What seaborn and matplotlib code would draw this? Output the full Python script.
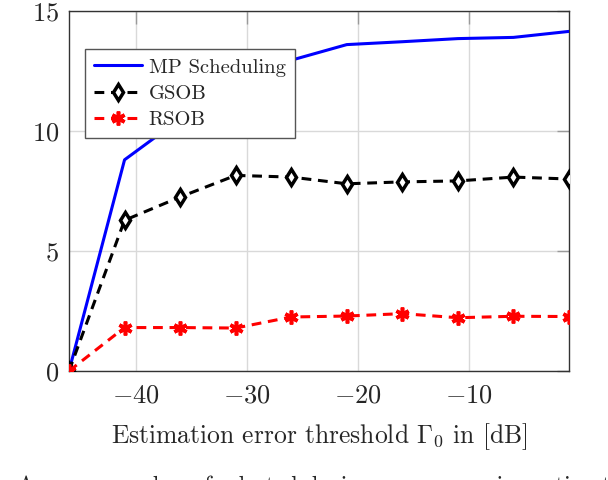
import matplotlib
matplotlib.use("Agg")
import matplotlib.pyplot as plt
import seaborn as sns
import numpy as np

thresholds = [-46, -41, -36, -31, -26, -21, -16, -11, -6, -1]
mp_sched = [0.0, 8.8, 10.5, 11.8, 12.95, 13.6, 13.72, 13.85, 13.9, 14.15]
gsob = [0.0, 6.28, 7.25, 8.15, 8.08, 7.8, 7.88, 7.92, 8.08, 8.0]
rsob = [0.0, 1.81, 1.81, 1.79, 2.25, 2.29, 2.39, 2.22, 2.28, 2.27]
xticks = [-40, -30, -20, -10]
yticks = [0, 5, 10, 15]

sns.set_theme(style="whitegrid")
plt.rcParams["font.family"] = ["cmr10", "DejaVu Serif"]
plt.rcParams["mathtext.fontset"] = "cm"
plt.rcParams["axes.formatter.use_mathtext"] = True
plt.rcParams["axes.unicode_minus"] = True

fig = plt.figure(figsize=(6.08, 4.8), dpi=100)
ax = fig.add_axes([69/608, 1-371/480, 500/608, 360/480])
ax.set_facecolor("white")

sns.lineplot(x=thresholds, y=mp_sched, ax=ax, color="#0000ff", lw=2.2,
             label="MP Scheduling", zorder=3)
sns.lineplot(x=thresholds, y=gsob, ax=ax, color="black", lw=2.2,
             linestyle=(0, (3.2, 2.2)), marker="d", markersize=8,
             markerfacecolor="white", markeredgecolor="black", markeredgewidth=2.5,
             label="GSOB", zorder=4)
sns.lineplot(x=thresholds, y=rsob, ax=ax, color="#ff0000", lw=2.2,
             linestyle=(0, (3.2, 2.2)), marker=(6, 2, 0), markersize=10,
             markeredgecolor="#ff0000", markeredgewidth=2.6,
             label="RSOB", zorder=5)

ax.set_xlim(-46, -1)
ax.set_ylim(0, 15)
ax.set_xticks(xticks)
ax.set_yticks(yticks)
ax.grid(True, color="#d9d9d9", lw=1.0)
ax.tick_params(axis="both", direction="in", length=9, width=1.0, color="#9a9a9a",
               labelsize=19, top=True, right=True)
ax.tick_params(axis="x", pad=9)
ax.tick_params(axis="y", pad=7)
for s in ax.spines.values():
    s.set_color("#333333")
    s.set_linewidth(1.0)

ax.set_xlabel(r"Estimation error threshold $\Gamma_0$ in [dB]", fontsize=18.4, labelpad=10)
ax.set_ylabel("")

leg = ax.legend(loc="upper left", bbox_to_anchor=(16/500, (371-49)/360), fontsize=14.8,
                frameon=True, fancybox=False, edgecolor="#555555", framealpha=1,
                handlelength=2.3, borderpad=0.45, labelspacing=0.38, handletextpad=0.35,
                borderaxespad=0)
leg.get_frame().set_linewidth(1.0)

fig.text(0.005, 1-475/480, ": Average number of selected devices versus sensing estimation",
         fontsize=16.8, ha="left", va="top")

fig.savefig("out.png", dpi=100)
